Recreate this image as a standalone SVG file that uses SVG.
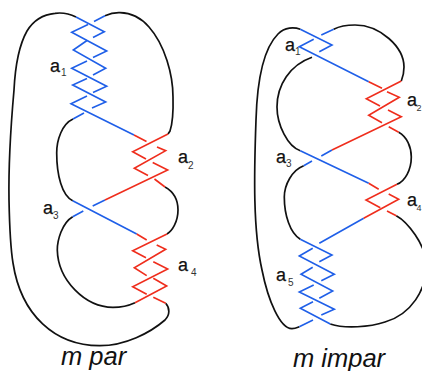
<svg xmlns="http://www.w3.org/2000/svg" width="422" height="371" viewBox="0 0 422 371">
<style>
path{fill:none;stroke-width:1.6;stroke-linejoin:miter;stroke-linecap:butt}
.k{stroke:#111;stroke-width:1.7}
.b{stroke:#1f5fe8}
.r{stroke:#ef2d1c}
text{font-family:"Liberation Sans",Arial,sans-serif;fill:#111}
.l{font-size:18px;stroke:#111;stroke-width:.25}
.s{font-size:10px;fill:#333}
.e{font-size:9px;fill:#333}
.c{font-size:25.500px;font-style:italic}
</style>
<g id="connectors">
<g id="left-black">
<path class="k" d="M76 17C68 13 61 12.500 55 13.300C42 14.500 33 21 27 31C18 47 15 70 14 90C10 135 8.500 170 9 200C9.500 225 10 245 13 263C21 315 55 346 100 345.700C125 345.700 150 333 165 320C170 315 170 308 165.700 303.300"/>
<path class="k" d="M105 15.700C110 13.500 115 12.500 120 12.700C133 13 142 19 149 27C165 45 173 75 173 97C173.500 115 172 125 170 131L168 134"/>
<path class="k" d="M73 119C62 124 56.700 140 56.700 153C56.700 175 62 196 72.700 200.700"/>
<path class="k" d="M72.700 216.700C62 223 57.300 240 57.300 250C58 280 85 307.300 113 307.300C122 307.300 130 305 135 302.700"/>
<path class="k" d="M165 187C174 192 178 201 178 210C178 222 172 231 167 234"/>
</g>
<g id="right-black">
<path class="k" d="M300.300 29.300C294 27 285 27 278 34C262 50 257 85 256 120C254 175 253 230 262 270C268 300 280 329 292 328.700C295 328.700 297 327.700 299.300 326.700"/>
<path class="k" d="M333.700 29.300C340 26 347 25 355 25C380 25 404 47 404 67C404 72 403 77 401.300 81"/>
<path class="k" d="M312 57.300C290 65 277 85 277 107C277 125 288 147 300.300 150.700"/>
<path class="k" d="M398.700 132.300C407 137 411.300 147 411.300 157C411.300 170 405 181 397 184.300"/>
<path class="k" d="M303.700 165.700C292 170 284.300 185 284.300 197C284.300 215 290 233 300.300 239.300"/>
<path class="k" d="M396.300 215.700C408 222 425 245 426 262C428 290 410 315 385 322C370 327 345 329 330.300 324"/>
</g>
<g id="left-blue">
<path class="b" d="M76 17L104.300 31.700L93 37.500M87 40.500L73.300 50L105.700 68.300L93 75M87 78.500L72.700 85L105.700 102L92 108M84 113L73 119"/>
<path class="b" d="M105 15.700L94 21.500M88 24.500L71.700 32.300L106.700 51L93 57.500M87 61L71.700 68.300L106.700 86.300L93 92.500M87 96L71 103.700L134 135"/>
<path class="b" d="M72.700 200.700L136.700 234M105 200L92.700 206M83.300 211L72.700 216.700"/>
</g>
<g id="left-red">
<path class="r" d="M134 135L146.500 141.500M157 147L165.700 150.700L134.300 168.300L148 175.500M154.500 179L165 187"/>
<path class="r" d="M168 134L132.700 151.700L146 159M152.700 162.500L167.700 170L105 200"/>
<path class="r" d="M136.700 234L146.700 240M156.700 245L165.700 249.300L134.300 267.700L146.700 275.700M153.300 278.300L166.700 286L135 302.700"/>
<path class="r" d="M167 234L132.700 250.700L146 257.700M153.300 261.700L167.700 269L132.700 286.700L146.700 294.300M153.300 297.300L165.700 303.300"/>
</g>
<g id="right-blue">
<path class="b" d="M300.300 29.300L332 45L319.300 51.700"/>
<path class="b" d="M333.700 29.300L321.300 35M313.700 39.300L299.300 46.700L368.700 81.700"/>
<path class="b" d="M300.300 150.700L368.700 183.300M332 150L321.300 156M312 161L303.700 165.700"/>
<path class="b" d="M363.700 218.300L319.300 243.300M312.700 248.300L299.300 256L334.300 274.300L321.300 280.700M313.700 285L299.300 292L334.300 309.300L321.300 315M313 320L299.300 326.700"/>
<path class="b" d="M300.300 239.300L332 255L319.300 261.700M312.700 267.300L301 274.300L332.700 291L319.300 298.300M313 301.700L300.300 308.300L330.300 324"/>
</g>
<g id="right-red">
<path class="r" d="M368.700 81.700L382 88.300M387 91.700L399.300 97.300L368.700 115.300L382 122.700M388.700 126.700L398.700 132.300"/>
<path class="r" d="M401.300 81L366.300 98.700L380 106M388 110L401.300 116.700L332 150"/>
<path class="r" d="M368.700 183.300L378.700 189.300M388.700 194L398.700 199.300L363.700 218.300"/>
<path class="r" d="M397 184.300L366 200L380.300 207.700M387 211L396.300 215.700"/>
</g>
</g>
<g id="labels">
<text class="l" x="50" y="72">a</text><text class="s" x="61" y="76">1</text>
<text class="l" x="178" y="163">a</text><text class="s" x="188" y="169">2</text>
<text class="l" x="43" y="214">a</text><text class="s" x="53" y="219">3</text>
<text class="l" x="178" y="271">a</text><text class="s" x="191" y="276">4</text>
<text class="l" x="285" y="51">a</text><text class="s" x="295" y="55">1</text>
<text class="l" x="407" y="106">a</text><text class="e" x="416.500" y="111">2</text>
<text class="l" x="276" y="163">a</text><text class="s" x="286" y="167">3</text>
<text class="l" x="407" y="206">a</text><text class="e" x="416.500" y="211">4</text>
<text class="l" x="276" y="281">a</text><text class="s" x="288" y="286">5</text>
<text class="c" x="61" y="365">m par</text>
<text class="c" x="293" y="367">m impar</text>
</g>
</svg>
